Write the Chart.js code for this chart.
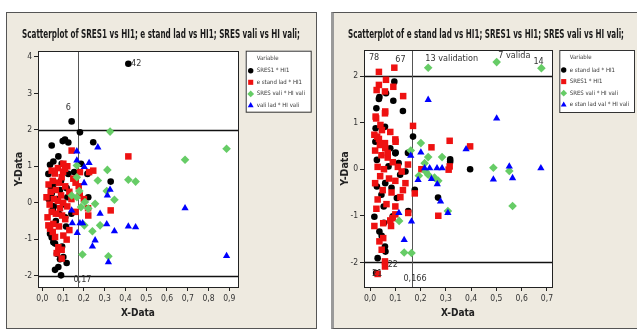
<!DOCTYPE html>
<html><head><meta charset="utf-8">
<script src="https://cdn.jsdelivr.net/npm/chart.js@4.4.1/dist/chart.umd.min.js"></script>
<style>
html,body{margin:0;padding:0;background:#fff;width:637px;height:329px;overflow:hidden}
.panel{position:absolute;background:#eeeae0;box-sizing:border-box}
#p1{left:6px;top:12px;width:311px;height:317px;border:1px solid #555}
#p2{left:331px;top:12px;width:310px;height:317px;border:1px solid #555;border-left:3px solid #9a9a9a}
canvas{position:absolute;left:0;top:0}
</style></head><body>
<div class="panel" id="p1"><canvas id="c1" width="309" height="315"></canvas></div>
<div class="panel" id="p2"><canvas id="c2" width="303" height="315"></canvas></div>
<script>
const F = "'Liberation Sans Narrow','DejaVu Sans Condensed','Arial Narrow',sans-serif";

// ---------------- LEFT CHART DATA ----------------
const L_title = "Scatterplot of SRES1 vs HI1; e stand lad vs HI1; SRES vali vs HI vali;";
const L_names = ["SRES1 * HI1", "e stand lad * HI1", "SRES vali * HI vali", "vali lad * HI vali"];
// black: SRES1 vs HI1
const L_hi1_a = [0.414,0.141,0.181,0.045,0.098,0.109,0.125,0.245,0.077,0.053,0.037,0.093,0.186,0.029,0.153,0.125,0.217,0.117,0.221,0.329,0.060,0.085,0.045,0.070,0.100,0.050,0.080,0.110,0.040,0.065,0.090,0.030,0.120,0.055,0.140,0.114,0.037,0.053,0.061,0.101,0.117,0.077,0.061,0.090,0.085,0.070,0.045,0.095,0.053];
const L_sres1 = [3.81,2.23,1.93,1.57,1.69,1.73,1.65,1.66,1.27,1.13,1.04,1.07,1.07,0.79,0.84,0.79,0.79,0.40,0.15,0.58,0.55,0.35,0.25,0.10,-0.05,-0.20,-0.30,-0.40,0.45,-0.50,0.60,0.10,0.15,-0.10,-0.30,-0.65,-0.85,-1.08,-1.12,-1.49,-1.65,-1.76,-1.84,-1.99,-1.55,-1.40,-0.95,-1.20,0.39];
// red: e stand lad vs HI1
const L_hi1_b = [0.141,0.245,0.181,0.149,0.093,0.414,0.329,0.221,0.120,0.075,0.060,0.100,0.050,0.030,0.080,0.110,0.130,0.040,0.065,0.090,0.020,0.055,0.075,0.100,0.035,0.085,0.120,0.045,0.065,0.095,0.025,0.110,0.160,0.140,0.180,0.037,0.061,0.077,0.093,0.069,0.093,0.117,0.101,0.053,0.029,0.080,0.050,0.130,0.200,0.175,0.160,0.220,0.101,0.109,0.045,0.225];
const L_estand = [1.43,0.88,0.84,0.66,0.70,1.27,-0.21,-0.35,1.00,0.95,0.80,0.85,0.60,0.50,0.55,0.45,0.30,0.30,0.35,0.20,0.15,0.10,0.05,0.00,-0.05,-0.15,-0.10,-0.25,-0.30,-0.35,-0.40,-0.45,-0.25,0.10,0.20,-0.71,-0.94,-1.22,-1.29,-1.38,-1.53,-1.01,-0.90,-0.58,-0.62,-0.65,-0.80,-0.75,0.10,0.45,0.55,-0.15,1.07,0.93,0.88,0.84];
// green: SRES vali vs HI vali
const L_hiv_a = [0.326,0.887,0.687,0.313,0.267,0.414,0.449,0.310,0.347,0.166,0.166,0.178,0.141,0.166,0.186,0.205,0.254,0.221,0.202,0.278,0.241,0.193,0.318];
const L_sresv = [1.95,1.48,1.18,0.90,0.61,0.63,0.58,0.32,0.08,1.02,0.70,0.32,0.20,0.15,-0.12,0.02,-0.03,-0.16,-0.62,-0.62,-0.78,-1.42,-1.47];
// blue: vali lad vs HI vali
const L_hiv_b = [0.267,0.166,0.166,0.225,0.202,0.201,0.326,0.313,0.687,0.141,0.278,0.144,0.181,0.194,0.168,0.310,0.414,0.449,0.347,0.254,0.241,0.318,0.887];
const L_valilad = [1.52,1.41,1.16,1.09,0.98,0.54,0.36,0.20,-0.15,-0.21,-0.30,-0.56,-0.56,-0.56,-0.83,-0.59,-0.65,-0.67,-0.78,-1.03,-1.20,-1.63,-1.46];
const L_xTicks = [0,0.1,0.2,0.3,0.4,0.5,0.6,0.7,0.8,0.9];
const L_yTicks = [-2,-1,0,1,2,3,4];
const L_refX = [0.17];
const L_refY = [-2, 2];
const L_labText = ["42","6","0,17"];
const L_labX = [0.452,0.125,0.193];
const L_labY = [3.82,2.62,-2.10];

// ---------------- RIGHT CHART DATA ----------------
const R_title = "Scatterplot of e stand lad vs HI1; SRES1 vs HI1; SRES vali vs HI vali;";
const R_names = ["e stand lad * HI1", "SRES1 * HI1", "SRES vali * HI vali", "e stan lad val * HI vali"];
// black: e stand lad vs HI1
const R_hi1_a = [0.096,0.035,0.037,0.063,0.092,0.025,0.130,0.059,0.022,0.170,0.101,0.021,0.100,0.113,0.073,0.119,0.027,0.027,0.106,0.054,0.396,0.317,0.317,0.269,0.177,0.017,0.037,0.046,0.059,0.061,0.030,0.024,0.055,0.090,0.151,0.140,0.060,0.080,0.045,0.150,0.085];
const R_estand = [1.88,1.51,1.55,1.63,1.47,1.31,1.25,0.91,0.88,0.70,0.36,0.59,0.34,0.13,0.06,-0.12,0.20,-0.37,-0.62,-0.80,0.00,0.21,0.16,-0.61,-0.44,-1.02,-1.34,-1.43,-1.66,-1.77,-1.91,-2.23,-1.15,-1.01,-0.90,-0.05,-0.30,0.45,-0.55,0.35,-0.40];
// red: SRES1 vs HI1
const R_hi1_b = [0.035,0.096,0.063,0.035,0.026,0.059,0.092,0.131,0.059,0.022,0.060,0.024,0.041,0.047,0.017,0.028,0.100,0.170,0.101,0.059,0.039,0.243,0.315,0.396,0.315,0.311,0.203,0.270,0.177,0.017,0.037,0.052,0.046,0.059,0.059,0.030,0.052,0.083,0.080,0.090,0.100,0.151,0.020,0.045,0.070,0.090,0.030,0.055,0.110,0.125,0.040,0.075,0.100,0.020,0.050,0.085,0.120,0.030,0.065,0.100,0.140,0.150,0.060,0.035,0.080,0.130,0.025,0.070];
const R_sres1 = [2.09,2.18,1.92,1.81,1.70,1.67,1.77,1.57,1.20,1.13,1.24,1.09,0.95,0.84,0.74,0.70,0.64,0.93,0.59,0.56,0.52,0.47,0.61,0.49,0.06,-0.01,0.00,-1.00,-0.52,-1.22,-1.55,-1.48,-1.73,-1.98,-2.09,-2.25,-1.16,-1.22,-1.10,-1.05,-0.97,-0.94,0.40,0.30,0.25,0.15,0.05,0.00,0.05,-0.05,-0.15,-0.20,-0.25,-0.30,-0.45,-0.50,-0.60,-0.65,-0.75,-0.80,-0.30,0.10,0.45,0.65,0.80,-0.45,-0.85,0.35];
// green: SRES vali vs HI vali
const R_hiv_a = [0.230,0.501,0.678,0.161,0.201,0.230,0.216,0.285,0.230,0.193,0.270,0.255,0.488,0.551,0.564,0.115,0.135,0.164,0.308,0.220];
const R_sresv = [2.18,2.30,2.17,0.40,0.56,0.26,0.13,0.26,-0.12,-0.14,-0.25,-0.18,0.03,-0.04,-0.79,-1.11,-1.79,-1.80,-0.90,-0.05];
// blue: e stan lad val vs HI vali
const R_hiv_b = [0.230,0.380,0.501,0.201,0.161,0.216,0.236,0.265,0.285,0.243,0.266,0.190,0.279,0.308,0.488,0.551,0.564,0.676,0.114,0.164,0.135];
const R_estandv = [1.49,0.43,1.09,0.36,0.29,0.02,0.02,0.02,0.02,-0.21,-0.32,-0.23,-0.69,-0.94,-0.22,0.06,-0.19,0.02,-0.94,-1.12,-1.52];
const R_xTicks = [0,0.1,0.2,0.3,0.4,0.5,0.6,0.7];
const R_yTicks = [-2,-1,0,1,2];
const R_refX = [0.166];
const R_refY = [-2, 2];
const R_labText = ["78","67","13 validation","7 valida","14","22","21","0,166"];
const R_labX = [0.016,0.120,0.323,0.571,0.667,0.090,0.028,0.178];
const R_labY = [2.40,2.35,2.37,2.44,2.32,-2.05,-2.25,-2.36];

// ---------------- STYLES ----------------
const COLORS = ['#000000','#ee1111','#66cc66','#0000ff'];
const STYLES = ['circle','rect','rectRot','triangle'];
const RADII = [3.3,4.6,4.3,4.2];

function marker(ctx, style, x, y, r, color){
  ctx.fillStyle = color; ctx.beginPath();
  if (style==='circle') ctx.arc(x,y,r,0,Math.PI*2);
  else if (style==='rect'){ const s=r*Math.SQRT1_2; ctx.rect(x-s,y-s,2*s,2*s); }
  else if (style==='rectRot'){ ctx.moveTo(x,y-r); ctx.lineTo(x+r,y); ctx.lineTo(x,y+r); ctx.lineTo(x-r,y); ctx.closePath(); }
  else { let a=0; ctx.moveTo(x+Math.sin(a)*r,y-Math.cos(a)*r); a+=2*Math.PI/3; ctx.lineTo(x+Math.sin(a)*r,y-Math.cos(a)*r); a+=2*Math.PI/3; ctx.lineTo(x+Math.sin(a)*r,y-Math.cos(a)*r); ctx.closePath(); }
  ctx.fill();
}

function build(id, o){
  const cv = document.getElementById(id);
  const W = cv.width, H = cv.height, A = o.area;
  const deco = {
    id:'deco'+id,
    beforeDraw(c){
      const a=c.chartArea, ctx=c.ctx; ctx.save(); ctx.fillStyle='#fff';
      ctx.fillRect(a.left,a.top,a.right-a.left,a.bottom-a.top); ctx.restore();
    },
    beforeDatasetsDraw(c){
      const a=c.chartArea, ctx=c.ctx, xs=c.scales.x, ys=c.scales.y; ctx.save();
      ctx.strokeStyle='#111'; ctx.lineWidth=1.3;
      o.refY.forEach(v=>{ const p=Math.round(ys.getPixelForValue(v))+0.5; ctx.beginPath(); ctx.moveTo(a.left,p); ctx.lineTo(a.right,p); ctx.stroke(); });
      ctx.strokeStyle='#555'; ctx.lineWidth=1;
      o.refX.forEach(v=>{ const p=Math.round(xs.getPixelForValue(v))+0.5; ctx.beginPath(); ctx.moveTo(p,a.top); ctx.lineTo(p,a.bottom); ctx.stroke(); });
      ctx.restore();
    },
    afterDraw(c){
      const a=c.chartArea, ctx=c.ctx, xs=c.scales.x, ys=c.scales.y; ctx.save();
      ctx.strokeStyle='#222'; ctx.lineWidth=1;
      ctx.strokeRect(Math.round(a.left)+0.5, Math.round(a.top)+0.5, Math.round(a.right-a.left), Math.round(a.bottom-a.top));
      // title (condensed horizontally to match the narrow face)
      ctx.save();
      ctx.font = 'bold 11.5px '+F; ctx.fillStyle='#1a1a1a'; ctx.textAlign='center'; ctx.textBaseline='middle';
      const tw = ctx.measureText(o.title).width, sx = Math.min(1, o.titleW/tw);
      ctx.translate(o.titleCX, 22); ctx.scale(sx,1); ctx.fillText(o.title, 0, 0);
      ctx.restore();
      // point labels
      ctx.font = '9px '+F; ctx.fillStyle='#333'; ctx.textAlign='center'; ctx.textBaseline='middle';
      o.labText.forEach((t,i)=>ctx.fillText(t, xs.getPixelForValue(o.labX[i]), ys.getPixelForValue(o.labY[i])));
      // legend
      const L=o.legend;
      ctx.fillStyle='#fff'; ctx.fillRect(L.x,L.y,L.w,L.h);
      ctx.strokeStyle='#333'; ctx.strokeRect(L.x+0.5,L.y+0.5,L.w,L.h);
      ctx.font='6px '+F; ctx.textAlign='left'; ctx.fillStyle='#444';
      ctx.fillText('Variable', L.x+L.tx, L.y+7.5);
      o.names.forEach((n,i)=>{
        const yy=L.y+20+i*11.6;
        marker(ctx, STYLES[i], L.x+L.mx, yy, [2.7,3.6,3.4,3.4][i], COLORS[i]);
        ctx.fillStyle='#333'; ctx.fillText(n, L.x+L.tx, yy);
      });
      ctx.restore();
    }
  };
  const series = [[o.x0,o.y0],[o.x1,o.y1],[o.x2,o.y2],[o.x3,o.y3]];
  return new Chart(cv, {
    type:'scatter',
    data:{datasets: series.map((s,i)=>({
      label:o.names[i], data:s[0].map((x,j)=>({x:x,y:s[1][j]})),
      pointStyle:STYLES[i], pointRadius:RADII[i], pointHoverRadius:RADII[i],
      backgroundColor:COLORS[i], borderWidth:0, order:4-i
    }))},
    options:{
      responsive:false, animation:false, devicePixelRatio:1, events:[],
      layout:{padding:{left:0,top:A.top,right:W-A.right,bottom:0}},
      plugins:{ legend:{display:false}, tooltip:{enabled:false}, title:{display:false} },
      scales:{
        x:{type:'linear', position:'bottom', min:o.xMin, max:o.xMax,
          afterBuildTicks:s=>{s.ticks=o.xTicks.map(v=>({value:v}));},
          afterFit:s=>{s.height=H-A.bottom;},
          ticks:{callback:v=>Number(v).toFixed(1).replace('.',','), font:{family:F,size:8.5}, color:'#333', padding:3, maxRotation:0, autoSkip:false},
          grid:{drawOnChartArea:false, drawTicks:true, tickLength:4, color:'#222'},
          border:{display:true,color:'#222'},
          title:{display:true, text:'X-Data', color:'#222', font:{family:F,size:10,weight:'bold',lineHeight:1.2}, padding:{top:0,bottom:9}}
        },
        y:{type:'linear', position:'left', min:o.yMin, max:o.yMax,
          afterBuildTicks:s=>{s.ticks=o.yTicks.map(v=>({value:v}));},
          afterFit:s=>{s.width=A.left;},
          ticks:{callback:v=>String(v), font:{family:F,size:8.5}, color:'#333', padding:2, autoSkip:false},
          grid:{drawOnChartArea:false, drawTicks:true, tickLength:4, color:'#222'},
          border:{display:true,color:'#222'},
          title:{display:true, text:'Y-Data', color:'#222', font:{family:F,size:10.5,weight:'bold',lineHeight:1.2}, padding:{top:o.yTitleX-6.3,bottom:0}}
        }
      }
    },
    plugins:[deco]
  });
}

build('c1', {
  title:L_title, titleW:278, titleCX:154, names:L_names,
  x0:L_hi1_a, y0:L_sres1, x1:L_hi1_b, y1:L_estand, x2:L_hiv_a, y2:L_sresv, x3:L_hiv_b, y3:L_valilad,
  xMin:-0.021, xMax:0.942, yMin:-2.31, yMax:4.16,
  xTicks:L_xTicks, yTicks:L_yTicks, refX:L_refX, refY:L_refY,
  labText:L_labText, labX:L_labX, labY:L_labY,
  area:{left:31,right:231,top:38,bottom:274}, yTitleX:12,
  legend:{x:238.7,y:37.7,w:65,h:61,mx:5,tx:11}
});
build('c2', {
  title:R_title, titleW:276, titleCX:152, names:R_names,
  x0:R_hi1_a, y0:R_estand, x1:R_hi1_b, y1:R_sres1, x2:R_hiv_a, y2:R_sresv, x3:R_hiv_b, y3:R_estandv,
  xMin:-0.024, xMax:0.72, yMin:-2.53, yMax:2.56,
  xTicks:R_xTicks, yTicks:R_yTicks, refX:R_refX, refY:R_refY,
  labText:R_labText, labX:R_labX, labY:R_labY,
  area:{left:30,right:218,top:37,bottom:274}, yTitleX:11,
  legend:{x:225.3,y:37,w:74.7,h:62,mx:4.4,tx:10.4}
});
</script>
</body></html>
